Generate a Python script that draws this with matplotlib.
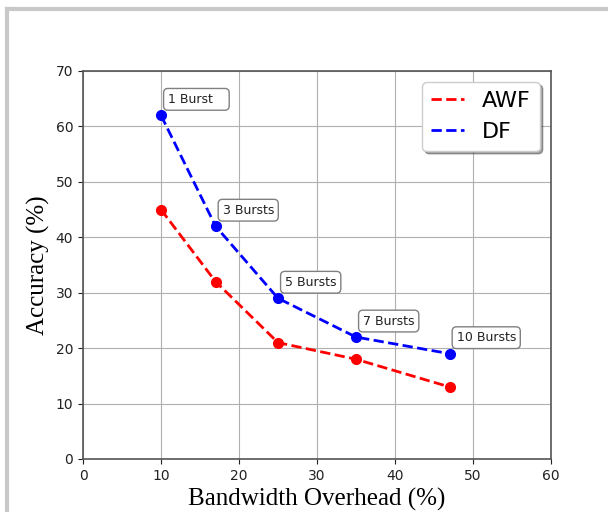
import matplotlib.pyplot as plt
from matplotlib.lines import Line2D

overhead = [10, 17, 25, 35, 47]
awf_acc = [45, 32, 21, 18, 13]
df_acc = [62, 42, 29, 22, 19]
burst_labels = ["1 Burst   ", "3 Bursts", "5 Bursts", "7 Bursts", "10 Bursts"]

fig = plt.figure(figsize=(6.08, 5.12), dpi=100)

# grey frame from the screenshot
fig.add_artist(Line2D([7 / 608, 1], [1 - 9 / 512, 1 - 9 / 512],
                      transform=fig.transFigure, color="#c8c8c8", lw=3))
fig.add_artist(Line2D([7 / 608, 7 / 608], [0, 1 - 9 / 512],
                      transform=fig.transFigure, color="#c8c8c8", lw=3))

ax = fig.add_axes([83 / 608, 53 / 512, 468 / 608, 388 / 512])

ax.plot(overhead, awf_acc, "r--", lw=2, label="AWF")
ax.plot(overhead, df_acc, "b--", lw=2, label="DF")
ax.plot(overhead, awf_acc, "ro", ms=7)
ax.plot(overhead, df_acc, "bo", ms=7)

for x, y, txt in zip(overhead, df_acc, burst_labels):
    ax.annotate(txt, (x, y), xytext=(5, 9), textcoords="offset points",
                fontsize=9, color="#222222",
                bbox=dict(boxstyle="round,pad=0.35", fc="white", ec="gray"))

ax.set_xlim(0, 60)
ax.set_ylim(0, 70)
ax.grid(True, color="#b0b0b0", lw=0.8)
for s in ax.spines.values():
    s.set_color("#555555")
    s.set_linewidth(1.2)
ax.tick_params(labelsize=10, colors="#222222")

ax.set_xlabel("Bandwidth Overhead (%)", family="Liberation Serif", fontsize=18)
ax.set_ylabel("Accuracy (%)", family="Liberation Serif", fontsize=18)

ax.legend(loc="upper right", fontsize=16, shadow=True, fancybox=True,
          handlelength=1.5, borderpad=0.4, labelspacing=0.5)

fig.savefig("out.png", dpi=100)
